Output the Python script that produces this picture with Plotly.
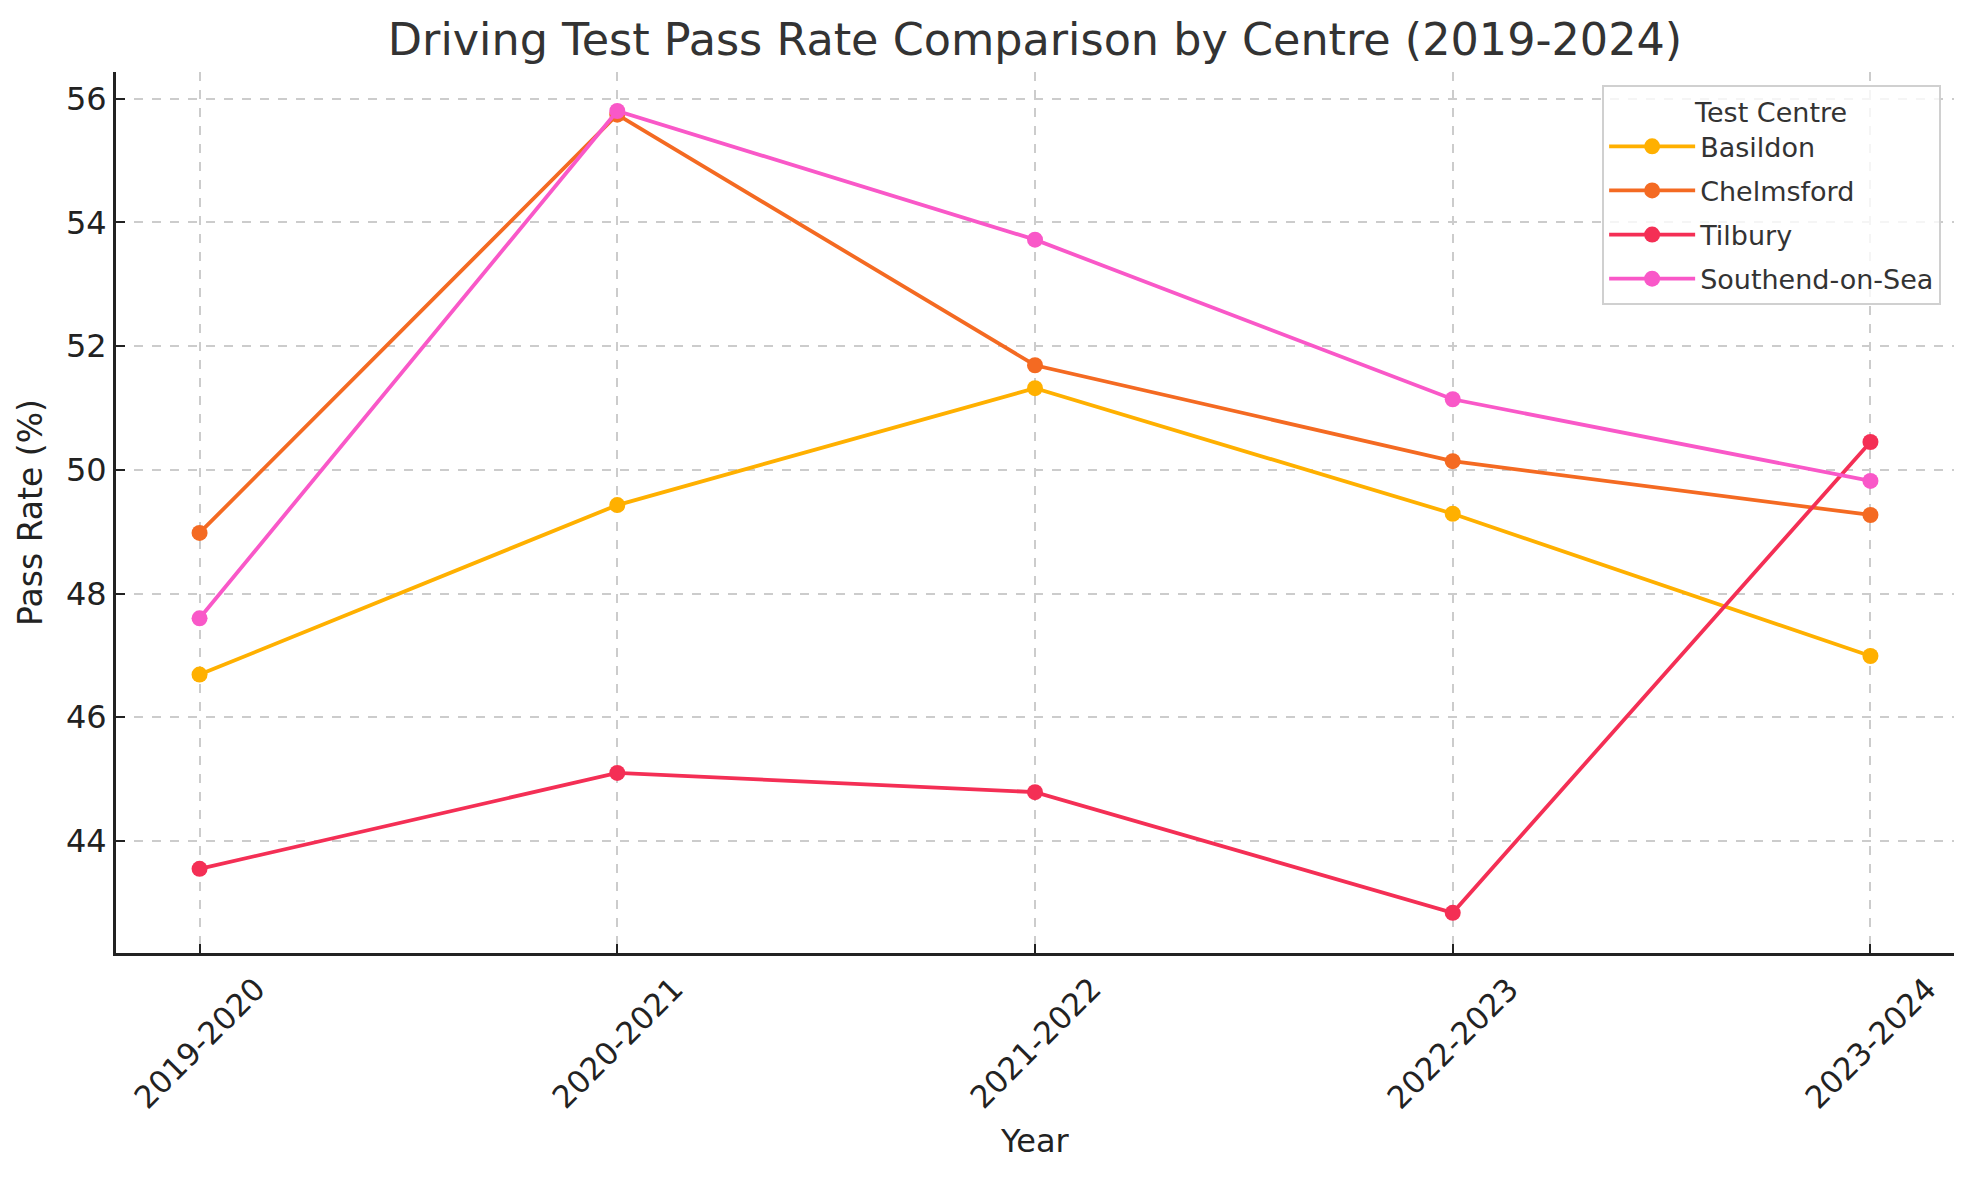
import plotly.graph_objects as go

years = ["2019-2020", "2020-2021", "2021-2022", "2022-2023", "2023-2024"]
basildon = [46.69, 49.43, 51.32, 49.29, 46.99]
chelmsford = [48.98, 55.74, 51.69, 50.14, 49.27]
tilbury = [43.55, 45.10, 44.79, 42.84, 50.45]
southend = [47.60, 55.80, 53.72, 51.14, 49.82]

series = [
    ("Basildon", basildon, "#FFB000"),
    ("Chelmsford", chelmsford, "#F46A22"),
    ("Tilbury", tilbury, "#F42F55"),
    ("Southend-on-Sea", southend, "#F958C8"),
]

FONT = "DejaVu Sans, Verdana, sans-serif"
W, H = 1966, 1172  # page body has an 8px margin
PLOT_H = 881
fig = go.Figure()
for name, vals, col in series:
    fig.add_trace(go.Scatter(
        x=list(range(len(years))), y=vals, name=name, mode="lines+markers",
        legendgroup=name,
        line=dict(color=col, width=3.8),
        marker=dict(color=col, size=16, line=dict(width=0)),
    ))

# rotated category labels, centred under each tick (matplotlib style)
for i, lab in enumerate(years):
    fig.add_annotation(x=i, xref="x", y=-90 / PLOT_H, yref="paper",
                       text=lab, textangle=-45, showarrow=False,
                       xanchor="center", yanchor="middle",
                       font=dict(size=31, color="#222222", family=FONT))
fig.add_annotation(x=0.5, xref="paper", y=-188 / PLOT_H, yref="paper",
                   text="Year", showarrow=False, xanchor="center", yanchor="middle",
                   font=dict(size=32, color="#222222", family=FONT))

fig.update_layout(
    width=W, height=H,
    margin=dict(l=108, r=20, t=64, b=227),
    paper_bgcolor="white", plot_bgcolor="white",
    font=dict(family=FONT, color="#222222", size=30),
    title=dict(text="Driving Test Pass Rate Comparison by Centre (2019-2024)",
               x=0.5, xref="paper", xanchor="center", y=1 - 31/H, yanchor="middle",
               font=dict(size=44.5, color="#333333", family=FONT)),
    legend=dict(
        title=dict(text="Test Centre", side="top center", font=dict(size=27, color="#333333")),
        x=0.993, xanchor="right", y=0.985, yanchor="top",
        bordercolor="#d0d0d0", borderwidth=2, bgcolor="rgba(255,255,255,0.8)",
        font=dict(size=27, color="#333333"),
        itemwidth=86, tracegroupgap=6,
    ),
    showlegend=True,
)
fig.update_xaxes(
    range=[-0.2, 4.2], tickmode="array", tickvals=list(range(len(years))),
    showticklabels=False,
    showline=True, linecolor="#222222", linewidth=3, mirror=False,
    ticks="inside", ticklen=9, tickwidth=1.5, tickcolor="#222222",
    showgrid=True, gridcolor="#cccccc", griddash="dash", gridwidth=1.5, zeroline=False,
)
fig.update_yaxes(
    range=[42.19, 56.43], tickmode="array", tickvals=[44, 46, 48, 50, 52, 54, 56],
    tickfont=dict(size=32, color="#222222"),
    title=dict(text="Pass Rate (%)", font=dict(size=33, color="#222222"), standoff=14),
    showline=True, linecolor="#222222", linewidth=3, mirror=False,
    ticks="inside", ticklen=9, tickwidth=1.5, tickcolor="#222222",
    showgrid=True, gridcolor="#cccccc", griddash="dash", gridwidth=1.5, zeroline=False,
)

fig.write_html("out.html")
